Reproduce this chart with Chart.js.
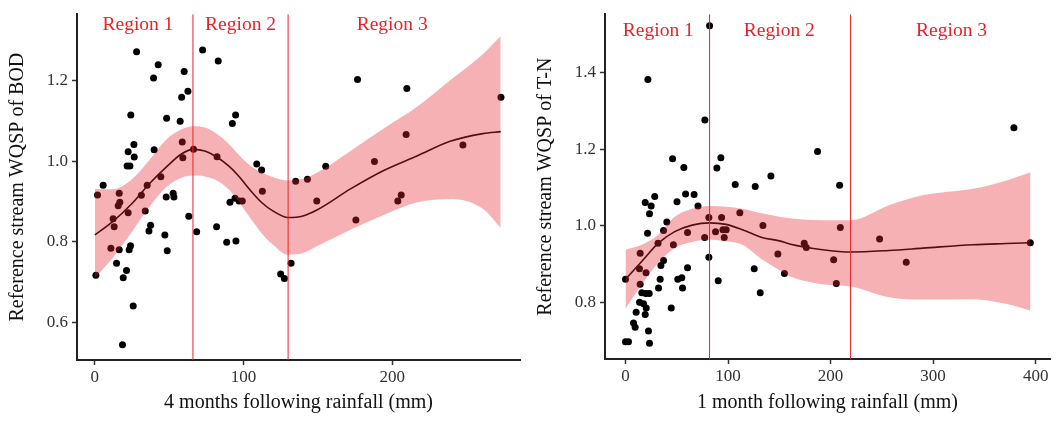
<!DOCTYPE html>
<html>
<head>
<meta charset="utf-8">
<script src="https://cdn.jsdelivr.net/npm/chart.js@4.4.1/dist/chart.umd.min.js"></script>
<style>
  html, body { margin: 0; padding: 0; background: #fff; }
  #wrap { position: relative; width: 1057px; height: 423px; overflow: hidden; }
  canvas { position: absolute; top: 0; }
  #bod { left: 0; }
  #tn { left: 528px; }
</style>
</head>
<body>
<div id="wrap">
  <canvas id="bod" width="528" height="423"></canvas>
  <canvas id="tn" width="529" height="423"></canvas>
</div>
<script>
// ---- BOD vs 4 months following rainfall ----
var bodRain = [0.7,1.8,5.6,10.8,12.3,13.0,14.6,15.7,16.4,16.8,
  16.4,18.6,19.1,21.3,21.7,23.6,22.4,22.4,23.1,24.0,
  24.2,25.8,26.3,26.5,28.1,31.3,33.9,35.2,36.4,37.5,
  39.5,39.9,42.6,44.4,47.1,48.0,48.3,48.7,52.7,53.2,
  57.4,58.4,58.8,59.2,60.1,62.6,63.2,66.4,68.5,72.5,
  81.9,82.2,83.0,88.7,90.9,92.5,94.3,94.7,94.9,97.0,
  99.2,108.9,112.2,112.7,125,127.5,132,135.1,143.0,149.3,
  155.3,175.6,176.7,188.1,203.8,206.1,209.4,209.9,247.6,273.2];
var bodWqsp = [0.717,0.916,0.940,0.784,0.857,0.837,0.747,0.889,0.920,0.898,
  0.780,0.545,0.711,0.729,0.988,0.988,0.872,1.023,0.780,0.790,
  1.114,0.641,1.041,1.010,1.271,0.915,0.876,0.940,0.827,0.841,
  1.206,1.028,1.239,0.961,0.817,0.911,1.106,0.778,0.920,0.911,
  1.099,1.158,1.047,1.008,1.222,1.173,0.863,1.029,0.825,1.275,
  0.837,1.011,1.248,0.799,0.898,1.093,0.908,1.114,0.802,0.901,
  0.901,0.993,0.978,0.925,0.720,0.709,0.747,0.950,0.955,0.901,
  0.987,0.854,1.202,0.999,0.901,0.916,1.066,1.180,1.040,1.158];
// smoothed fit and its confidence band
var bodFitX  = [0,12,25,37,48,58,66,74,82,90,97,104,112,120,130,140,150,172,194,217,239,261,273];
var bodFit   = [0.817,0.850,0.895,0.945,0.985,1.017,1.029,1.025,1.010,0.988,0.962,0.930,0.898,0.876,0.860,0.864,0.880,0.931,0.976,1.013,1.049,1.068,1.073];
var bodLower = [0.710,0.760,0.825,0.888,0.935,0.958,0.964,0.962,0.952,0.930,0.898,0.862,0.822,0.792,0.768,0.772,0.790,0.830,0.866,0.898,0.906,0.882,0.835];
var bodUpper = [0.931,0.930,0.955,1.004,1.053,1.078,1.086,1.083,1.068,1.043,1.015,0.990,0.972,0.960,0.952,0.956,0.972,1.025,1.080,1.135,1.200,1.265,1.310];
var bodBreaks = [66, 130];
var bodLabelX = [29, 98, 200];
var bodXTicks = [0, 100, 200];
var bodYTicks = [0.6, 0.8, 1.0, 1.2];

// ---- T-N vs 1 month following rainfall ----
var tnRain = [0,0,2.9,7.8,9.4,10.4,13.6,13.7,14.3,14.3,
  15.9,17.6,19.2,19.2,19.8,20.0,20.2,21.5,21.8,22.4,
  23.1,23.4,23.4,25.0,28.5,31.7,32.2,33.8,34.5,37.1,
  37.1,40.3,44.6,45.9,46.7,50.2,51.0,54.9,55.6,56.9,
  58.6,60.5,60.5,66.9,70.7,77.2,77.4,81.3,81.3,82.0,
  87.8,89.1,90.4,93.0,93.7,95.0,96.3,98.2,107.0,111.5,
  126.5,125.5,131.4,134.0,141.8,148.6,155.0,174.3,176.3,187.3,
  203.0,205.6,208.8,209.5,247.8,273.8,378.8,394.8];
var tnWqsp = [0.861,0.698,0.698,0.747,0.736,0.775,0.888,0.801,0.929,0.848,
  0.826,0.797,1.061,0.769,0.824,0.878,0.786,0.981,1.382,0.726,
  0.824,1.032,0.694,1.052,1.077,0.955,0.838,0.861,0.897,0.988,
  0.910,1.010,0.786,1.175,0.951,1.063,0.861,0.865,0.838,1.152,
  1.083,0.983,0.891,1.082,1.052,0.970,1.276,1.022,0.918,1.522,
  0.985,1.151,0.857,1.178,1.022,0.990,0.970,0.990,1.108,1.034,
  1.103,0.888,0.826,1.001,1.130,0.927,0.876,0.955,0.944,1.194,
  0.912,0.850,1.106,0.996,0.966,0.905,1.256,0.956];
var tnFitX  = [0,16,32,48,65,82,98,114,133,150,160,192,220,257,290,339,371,395];
var tnFit   = [0.861,0.908,0.955,0.985,1.002,1.008,1.004,0.990,0.970,0.961,0.953,0.938,0.932,0.936,0.942,0.951,0.954,0.956];
var tnLower = [0.784,0.848,0.904,0.942,0.958,0.964,0.960,0.951,0.913,0.885,0.869,0.848,0.842,0.814,0.808,0.809,0.797,0.779];
var tnUpper = [0.938,0.951,0.977,1.024,1.045,1.052,1.050,1.045,1.033,1.024,1.020,1.015,1.015,1.054,1.080,1.097,1.118,1.140];
var tnBreaks = [82, 219.5];
var tnLabelX = [32, 150, 318];
var tnXTicks = [0, 100, 200, 300, 400];
var tnYTicks = [0.8, 1.0, 1.2, 1.4];

var regionNames = ['Region 1', 'Region 2', 'Region 3'];

var SERIF = '"Liberation Serif", "DejaVu Serif", serif';
var BAND = 'rgba(230,40,50,0.36)';
var RED = '#ed2026';

// writes "Region n" above each section of the plot
var regionLabels = {
  id: 'regionLabels',
  afterDatasetsDraw: function (chart, args, opts) {
    var ctx = chart.ctx, x = chart.scales.x, y = chart.scales.y;
    ctx.save();
    ctx.font = '19.5px ' + SERIF;
    ctx.fillStyle = RED;
    ctx.textAlign = 'center';
    ctx.textBaseline = 'middle';
    opts.names.forEach(function (name, i) {
      ctx.fillText(name, x.getPixelForValue(opts.xs[i]), y.getPixelForValue(opts.y));
    });
    ctx.restore();
  }
};

function pts(xs, ys) {
  return xs.map(function (x, i) { return { x: x, y: ys[i] }; });
}

function makeChart(id, s) {
  var datasets = [
    // band: upper edge filled down to the lower edge, drawn over points
    { data: pts(s.fitX, s.upper), showLine: true, pointRadius: 0, borderWidth: 0,
      borderColor: 'transparent', backgroundColor: BAND, fill: '+1',
      cubicInterpolationMode: 'monotone', order: 0 },
    { data: pts(s.fitX, s.lower), showLine: true, pointRadius: 0, borderWidth: 0,
      borderColor: 'transparent', fill: false, cubicInterpolationMode: 'monotone', order: 0 },
    { data: pts(s.fitX, s.fit), showLine: true, pointRadius: 0, borderWidth: 1.6,
      borderColor: '#000', fill: false, cubicInterpolationMode: 'monotone', order: 1 },
    { data: pts(s.rain, s.wqsp), pointRadius: 3.5, backgroundColor: '#000',
      borderColor: '#000', pointBorderWidth: 0, order: 2 }
  ];
  // region boundaries as vertical lines
  s.breaks.forEach(function (b) {
    datasets.push({ data: [{ x: b, y: s.yMin }, { x: b, y: s.yMax }], showLine: true,
      pointRadius: 0, borderWidth: 1, borderColor: RED, backgroundColor: RED,
      fill: false, tension: 0, order: -1 });
  });

  return new Chart(document.getElementById(id), {
    type: 'scatter',
    data: { datasets: datasets },
    plugins: [regionLabels],
    options: {
      responsive: false,
      animation: false,
      devicePixelRatio: 1,
      layout: { autoPadding: false, padding: { top: 10, right: s.padRight, left: 0, bottom: 0 } },
      plugins: {
        legend: { display: false },
        tooltip: { enabled: false },
        regionLabels: { names: regionNames, xs: s.labelX, y: s.labelY }
      },
      scales: {
        x: {
          type: 'linear', min: s.xMin, max: s.xMax,
          afterBuildTicks: function (sc) { sc.ticks = s.xTicks.map(function (v) { return { value: v }; }); },
          afterFit: function (sc) { sc.height = s.xAxisH; },
          grid: { display: true, drawOnChartArea: false, drawTicks: true, tickLength: 5, tickColor: '#333', tickWidth: 1.5 },
          border: { display: true, color: '#222', width: 2 },
          ticks: { font: { family: SERIF, size: 17 }, color: '#333', padding: 2, maxRotation: 0 },
          title: { display: true, text: s.xTitle, font: { family: SERIF, size: 20 }, color: '#111', padding: { top: 0, bottom: 8 } }
        },
        y: {
          type: 'linear', min: s.yMin, max: s.yMax,
          afterBuildTicks: function (sc) { sc.ticks = s.yTicks.map(function (v) { return { value: v }; }); },
          afterFit: function (sc) { sc.width = 77; },
          grid: { display: true, drawOnChartArea: false, drawTicks: true, tickLength: 5, tickColor: '#333', tickWidth: 1.5 },
          border: { display: true, color: '#222', width: 2 },
          ticks: { font: { family: SERIF, size: 17 }, color: '#333', padding: 4,
            callback: function (v) { return v.toFixed(1); } },
          title: { display: true, text: s.yTitle, font: { family: SERIF, size: 20 }, color: '#111', padding: { top: 6, bottom: 0 } }
        }
      }
    }
  });
}

makeChart('bod', {
  rain: bodRain, wqsp: bodWqsp, fitX: bodFitX, fit: bodFit, lower: bodLower, upper: bodUpper,
  breaks: bodBreaks, labelX: bodLabelX, labelY: 1.337, xTicks: bodXTicks, yTicks: bodYTicks,
  xMin: -12, xMax: 286, yMin: 0.507, yMax: 1.364, padRight: 8, xAxisH: 63,
  xTitle: '4 months following rainfall (mm)', yTitle: 'Reference stream WQSP of BOD'
});

makeChart('tn', {
  rain: tnRain, wqsp: tnWqsp, fitX: tnFitX, fit: tnFit, lower: tnLower, upper: tnUpper,
  breaks: tnBreaks, labelX: tnLabelX, labelY: 1.508, xTicks: tnXTicks, yTicks: tnYTicks,
  xMin: -20, xMax: 414, yMin: 0.653, yMax: 1.552, padRight: 7, xAxisH: 64,
  xTitle: '1 month following rainfall (mm)', yTitle: 'Reference stream WQSP of T-N'
});
</script>
</body>
</html>
